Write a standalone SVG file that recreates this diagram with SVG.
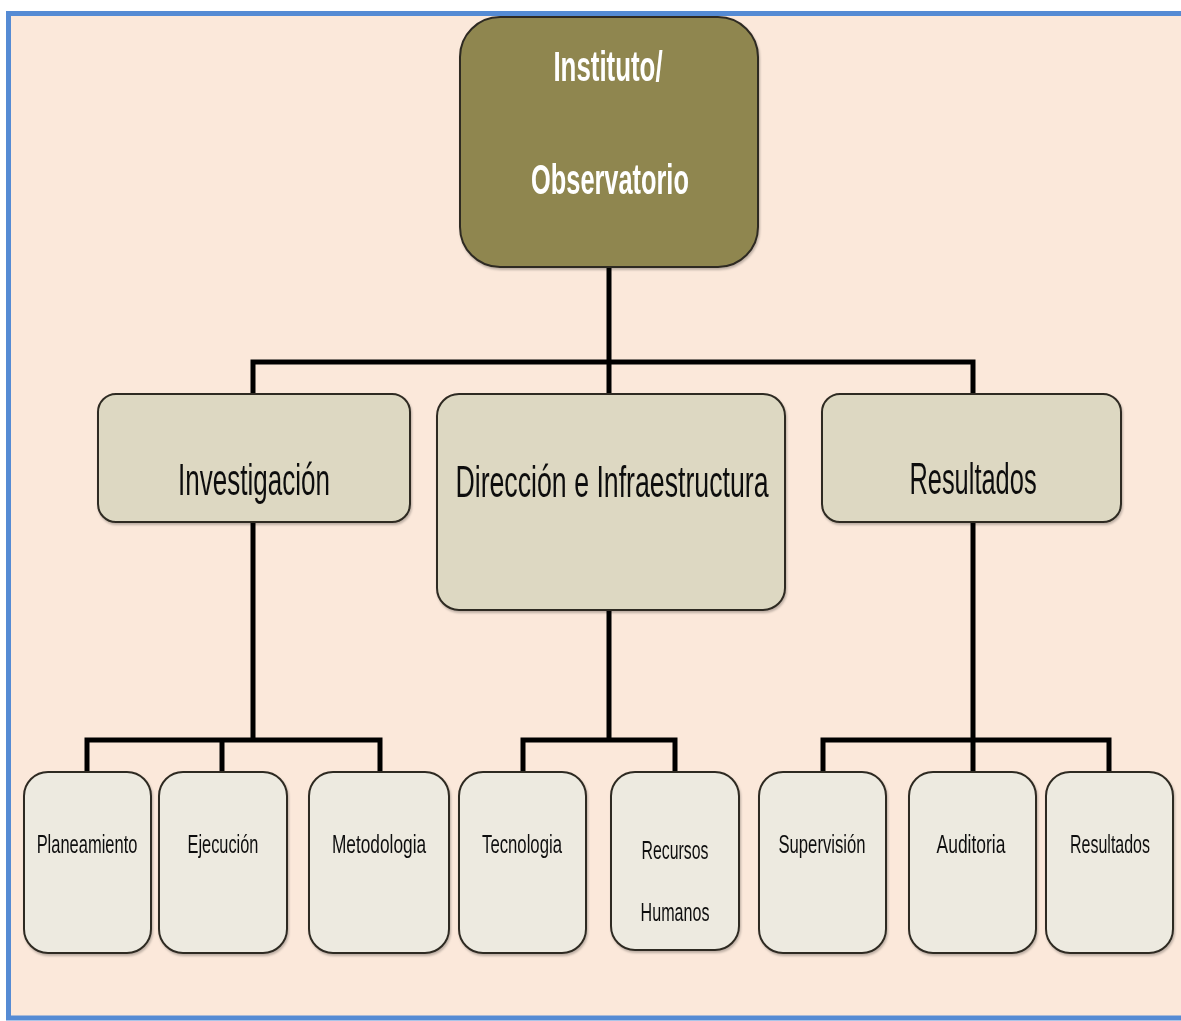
<svg xmlns="http://www.w3.org/2000/svg" width="1181" height="1021" viewBox="0 0 1181 1021">
  <style>
    .frame { fill: #FBE8DA; stroke: #558BD4; stroke-width: 5; }
    .box { stroke: #2E2A22; stroke-width: 2; }
    .top { fill: #8F8650; }
    .mid { fill: #DDD8C2; }
    .leaf { fill: #EDEAE0; }
    .link { fill: none; stroke: #000; stroke-width: 5; stroke-linejoin: miter; stroke-linecap: square; }
    text { font-family: "Liberation Sans", Arial, sans-serif; text-anchor: middle; }
    .t-top { fill: #FFFFFF; font-weight: bold; font-size: 42px; }
    .t-mid { fill: #111; font-size: 44px; }
    .t-leaf { fill: #111; font-size: 25px; }
  </style>
  <defs>
    <filter id="shadow" x="-10%" y="-10%" width="120%" height="120%">
      <feDropShadow dx="1" dy="2" stdDeviation="1.2" flood-color="#000" flood-opacity="0.25"/>
    </filter>
  </defs>

  <rect x="0" y="0" width="1181" height="1021" fill="#FFFFFF"/>
  <rect class="frame" x="8.5" y="13.5" width="1180" height="1004.5"/>

  <!-- connectors -->
  <g id="connectors">
    <path class="link" d="M609 267 V362 M253 394 V362 H973 V394 M609 362 V394"/>
    <path class="link" d="M253 522 V740 M87 772 V740 H380 V772 M222 740 V772"/>
    <path class="link" d="M609 610 V740 M523 772 V740 H675 V772"/>
    <path class="link" d="M973 522 V740 M823 772 V740 H1109 V772 M973 740 V772"/>
  </g>

  <!-- root -->
  <g id="node-instituto" filter="url(#shadow)">
    <rect class="box top" x="460" y="17" width="298" height="250" rx="40"/>
    <text class="t-top" transform="translate(608 81) scale(0.6 1)" textLength="182" lengthAdjust="spacingAndGlyphs">Instituto/</text>
    <text class="t-top" transform="translate(610 194) scale(0.6 1)" textLength="263" lengthAdjust="spacingAndGlyphs">Observatorio</text>
  </g>

  <!-- second level -->
  <g id="node-investigacion" filter="url(#shadow)">
    <rect class="box mid" x="98" y="394" width="312" height="128" rx="18"/>
    <text class="t-mid" transform="translate(254 495) scale(0.6 1)" textLength="253" lengthAdjust="spacingAndGlyphs">Investigación</text>
  </g>
  <g id="node-direccion" filter="url(#shadow)">
    <rect class="box mid" x="437" y="394" width="348" height="216" rx="22"/>
    <text class="t-mid" transform="translate(612 497) scale(0.6 1)" textLength="522" lengthAdjust="spacingAndGlyphs">Dirección e Infraestructura</text>
  </g>
  <g id="node-resultados" filter="url(#shadow)">
    <rect class="box mid" x="822" y="394" width="299" height="128" rx="18"/>
    <text class="t-mid" transform="translate(973 494) scale(0.6 1)" textLength="212" lengthAdjust="spacingAndGlyphs">Resultados</text>
  </g>

  <!-- third level -->
  <g id="node-planeamiento" filter="url(#shadow)">
    <rect class="box leaf" x="24" y="772" width="127" height="181" rx="24"/>
    <text class="t-leaf" transform="translate(87 853) scale(0.65 1)" textLength="155" lengthAdjust="spacingAndGlyphs">Planeamiento</text>
  </g>
  <g id="node-ejecucion" filter="url(#shadow)">
    <rect class="box leaf" x="159" y="772" width="128" height="181" rx="24"/>
    <text class="t-leaf" transform="translate(223 853) scale(0.65 1)" textLength="109" lengthAdjust="spacingAndGlyphs">Ejecución</text>
  </g>
  <g id="node-metodologia" filter="url(#shadow)">
    <rect class="box leaf" x="309" y="772" width="140" height="181" rx="24"/>
    <text class="t-leaf" transform="translate(379 853) scale(0.65 1)" textLength="145" lengthAdjust="spacingAndGlyphs">Metodologia</text>
  </g>
  <g id="node-tecnologia" filter="url(#shadow)">
    <rect class="box leaf" x="459" y="772" width="127" height="181" rx="24"/>
    <text class="t-leaf" transform="translate(522 853) scale(0.65 1)" textLength="123" lengthAdjust="spacingAndGlyphs">Tecnologia</text>
  </g>
  <g id="node-recursos-humanos" filter="url(#shadow)">
    <rect class="box leaf" x="611" y="772" width="128" height="178" rx="24"/>
    <text class="t-leaf" transform="translate(675 859) scale(0.65 1)" textLength="103" lengthAdjust="spacingAndGlyphs">Recursos</text>
    <text class="t-leaf" transform="translate(675 921) scale(0.65 1)" textLength="106" lengthAdjust="spacingAndGlyphs">Humanos</text>
  </g>
  <g id="node-supervision" filter="url(#shadow)">
    <rect class="box leaf" x="759" y="772" width="127" height="181" rx="24"/>
    <text class="t-leaf" transform="translate(822 853) scale(0.65 1)" textLength="134" lengthAdjust="spacingAndGlyphs">Supervisión</text>
  </g>
  <g id="node-auditoria" filter="url(#shadow)">
    <rect class="box leaf" x="909" y="772" width="127" height="181" rx="24"/>
    <text class="t-leaf" transform="translate(971 853) scale(0.65 1)" textLength="106" lengthAdjust="spacingAndGlyphs">Auditoria</text>
  </g>
  <g id="node-resultados-detalle" filter="url(#shadow)">
    <rect class="box leaf" x="1046" y="772" width="127" height="181" rx="24"/>
    <text class="t-leaf" transform="translate(1110 853) scale(0.65 1)" textLength="123" lengthAdjust="spacingAndGlyphs">Resultados</text>
  </g>
</svg>
